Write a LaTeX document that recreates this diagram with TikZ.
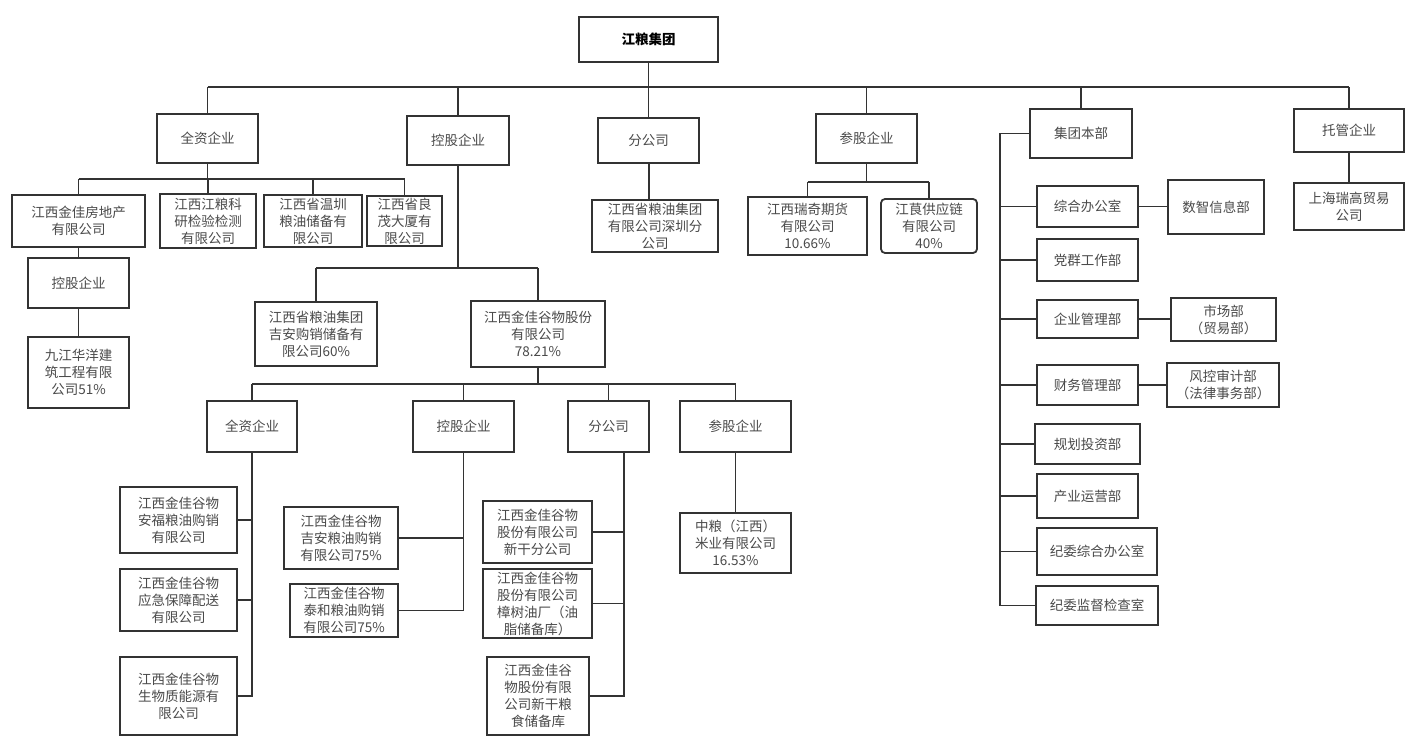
\documentclass[tikz,border=0pt]{standalone}
\usepackage{fontspec}
\setmainfont{Noto Sans CJK SC}
\definecolor{ln}{HTML}{333333}
\definecolor{tx}{HTML}{4A4A4A}
\tikzset{
  bx/.style={draw=ln, line width=1.8pt, fill=white, inner sep=0pt, align=center,
    text=tx, font=\fontsize{13.5}{17}\selectfont},
  rbx/.style={bx, rounded corners=4pt},
  cn/.style={draw=ln, line width=1.6pt},
}
\begin{document}
\begin{tikzpicture}[x=1pt,y=-1pt]
\useasboundingbox (0,0) rectangle (1416,746);
% level 0
\node[bx, minimum width=139, minimum height=45, text=black, font=\fontsize{13.5}{17}\selectfont\bfseries] (top) at (648.5,39.5) {江粮集团};
% level 1
\node[bx, minimum width=101, minimum height=49] (A1) at (207.5,138.5) {全资企业};
\node[bx, minimum width=102, minimum height=49] (A2) at (458,140.5) {控股企业};
\node[bx, minimum width=101, minimum height=45] (A3) at (648.5,140.5) {分公司};
\node[bx, minimum width=101, minimum height=49] (A4) at (866.5,138.5) {参股企业};
\node[bx, minimum width=102, minimum height=49] (A5) at (1081,133.5) {集团本部};
\node[bx, minimum width=110, minimum height=43] (A6) at (1349,130.5) {托管企业};
% under 全资企业
\node[bx, minimum width=133, minimum height=52] (B1) at (78.5,221) {江西金佳房地产\\有限公司};
\node[bx, minimum width=96, minimum height=54] (B2) at (208,221) {江西江粮科\\研检验检测\\有限公司};
\node[bx, minimum width=98, minimum height=52] (B3) at (313,221) {江西省温圳\\粮油储备有\\限公司};
\node[bx, minimum width=75, minimum height=50] (B4) at (404.5,221) {江西省良\\茂大厦有\\限公司};
\node[bx, minimum width=101, minimum height=50] (B5) at (78.5,283) {控股企业};
\node[bx, minimum width=101, minimum height=71] (B6) at (78.5,372.5) {九江华洋建\\筑工程有限\\公司51\%};
% under 控股企业
\node[bx, minimum width=122, minimum height=64] (C1) at (316,334) {江西省粮油集团\\吉安购销储备有\\限公司60\%};
\node[bx, minimum width=134, minimum height=66] (C2) at (538,334) {江西金佳谷物股份\\有限公司\\78.21\%};
% others level 2
\node[bx, minimum width=126, minimum height=52] (D1) at (655,226) {江西省粮油集团\\有限公司深圳分\\公司};
\node[bx, minimum width=119, minimum height=58] (D2) at (807.5,226) {江西瑞奇期货\\有限公司\\10.66\%};
\node[rbx, minimum width=96, minimum height=54] (D3) at (929,226) {江茛供应链\\有限公司\\40\%};
\node[bx, minimum width=110, minimum height=47] (D4) at (1349,206.5) {上海瑞高贸易\\公司};
% under 金佳谷物股份
\node[bx, minimum width=90, minimum height=51] (E1) at (252,426.5) {全资企业};
\node[bx, minimum width=101, minimum height=51] (E2) at (463.5,426.5) {控股企业};
\node[bx, minimum width=81, minimum height=51] (E3) at (608.5,426.5) {分公司};
\node[bx, minimum width=111, minimum height=51] (E4) at (735.5,426.5) {参股企业};
\node[bx, minimum width=117, minimum height=66] (F1) at (178.5,520) {江西金佳谷物\\安福粮油购销\\有限公司};
\node[bx, minimum width=117, minimum height=62] (F2) at (178.5,600) {江西金佳谷物\\应急保障配送\\有限公司};
\node[bx, minimum width=117, minimum height=78] (F3) at (178.5,696) {江西金佳谷物\\生物质能源有\\限公司};
\node[bx, minimum width=114, minimum height=62] (G1) at (341,538) {江西金佳谷物\\吉安粮油购销\\有限公司75\%};
\node[bx, minimum width=108, minimum height=53] (G2) at (344,610.5) {江西金佳谷物\\泰和粮油购销\\有限公司75\%};
\node[bx, minimum width=109, minimum height=62] (H1) at (537.5,532) {江西金佳谷物\\股份有限公司\\新干分公司};
\node[bx, minimum width=109, minimum height=69] (H2) at (537.5,603.5) {江西金佳谷物\\股份有限公司\\樟树油厂（油\\脂储备库）};
\node[bx, minimum width=102, minimum height=78] (H3) at (538,696) {江西金佳谷\\物股份有限\\公司新干粮\\食储备库};
\node[bx, minimum width=111, minimum height=60] (I1) at (735.5,543) {中粮（江西）\\米业有限公司\\16.53\%};
% 集团本部 departments
\node[bx, minimum width=101, minimum height=41] (R1) at (1087.5,206.5) {综合办公室};
\node[bx, minimum width=96, minimum height=54] (R1b) at (1216,207) {数智信息部};
\node[bx, minimum width=101, minimum height=42] (R2) at (1087.5,260) {党群工作部};
\node[bx, minimum width=101, minimum height=38] (R3) at (1087.5,319) {企业管理部};
\node[bx, minimum width=105, minimum height=43] (R3b) at (1223.5,319.5) {市场部\\（贸易部）};
\node[bx, minimum width=101, minimum height=40] (R4) at (1087.5,385) {财务管理部};
\node[bx, minimum width=112, minimum height=44] (R4b) at (1223,385) {风控审计部\\（法律事务部）};
\node[bx, minimum width=105, minimum height=40] (R5) at (1087.5,444) {规划投资部};
\node[bx, minimum width=101, minimum height=44] (R6) at (1087.5,496) {产业运营部};
\node[bx, minimum width=120, minimum height=47] (R7) at (1097,551.5) {纪委综合办公室};
\node[bx, minimum width=122, minimum height=39] (R8) at (1097,605.5) {纪委监督检查室};
% coordinates
\coordinate (bus) at (0,87);
\coordinate (busA1) at (0,179);
\coordinate (busA2) at (0,268);
\coordinate (busA4) at (0,182);
\coordinate (busC2) at (0,384);
\coordinate (e3s) at (624,452);
\coordinate (rbus) at (1000,0);
\coordinate (a3s) at (649,163);
% connectors
\begin{scope}[on background layer/.style={}]
\draw[cn] (top.south) -- (top.south |- bus);
\draw[cn] (A1.north |- bus) -- (A6.north |- bus);
\foreach \n in {A1,A2,A3,A4,A5,A6} \draw[cn] (\n.north) -- (\n.north |- bus);
% 全资企业
\draw[cn] (A1.south) -- (A1.south |- busA1);
\draw[cn] (B1.north |- busA1) -- (B4.north |- busA1);
\foreach \n in {B1,B2,B3,B4} \draw[cn] (\n.north) -- (\n.north |- busA1);
\draw[cn] (B1.south) -- (B5.north);
\draw[cn] (B5.south) -- (B6.north);
% 控股企业
\draw[cn] (A2.south) -- (A2.south |- busA2);
\draw[cn] (C1.north |- busA2) -- (C2.north |- busA2);
\draw[cn] (C1.north) -- (C1.north |- busA2);
\draw[cn] (C2.north) -- (C2.north |- busA2);
% 分公司
\draw[cn] (a3s) -- (a3s |- D1.north);
% 参股企业
\draw[cn] (A4.south) -- (A4.south |- busA4);
\draw[cn] (D2.north |- busA4) -- (D3.north |- busA4);
\draw[cn] (D2.north) -- (D2.north |- busA4);
\draw[cn] (D3.north) -- (D3.north |- busA4);
% 托管企业
\draw[cn] (A6.south) -- (D4.north);
% 金佳谷物股份
\draw[cn] (C2.south) -- (C2.south |- busC2);
\draw[cn] (E1.north |- busC2) -- (E4.north |- busC2);
\foreach \n in {E1,E2,E3,E4} \draw[cn] (\n.north) -- (\n.north |- busC2);
\draw[cn] (E1.south) -- (E1.south |- F3.east) -- (F3.east);
\draw[cn] (F1.east) -- (E1.south |- F1.east);
\draw[cn] (F2.east) -- (E1.south |- F2.east);
\draw[cn] (E2.south) -- (E2.south |- G2.east) -- (G2.east);
\draw[cn] (G1.east) -- (E2.south |- G1.east);
\draw[cn] (e3s) -- (e3s |- H3.east) -- (H3.east);
\draw[cn] (H1.east) -- (e3s |- H1.east);
\draw[cn] (H2.east) -- (e3s |- H2.east);
\draw[cn] (E4.south) -- (I1.north);
% 集团本部
\draw[cn] (A5.west) -- (rbus |- A5.west) -- (rbus |- R8.west) -- (R8.west);
\foreach \n in {R1,R2,R3,R4,R5,R6,R7} \draw[cn] (rbus |- \n.west) -- (\n.west);
\draw[cn] (R1.east) -- (R1b.west |- R1.east);
\draw[cn] (R3.east) -- (R3b.west |- R3.east);
\draw[cn] (R4.east) -- (R4b.west |- R4.east);
\end{scope}
\end{tikzpicture}
\end{document}
